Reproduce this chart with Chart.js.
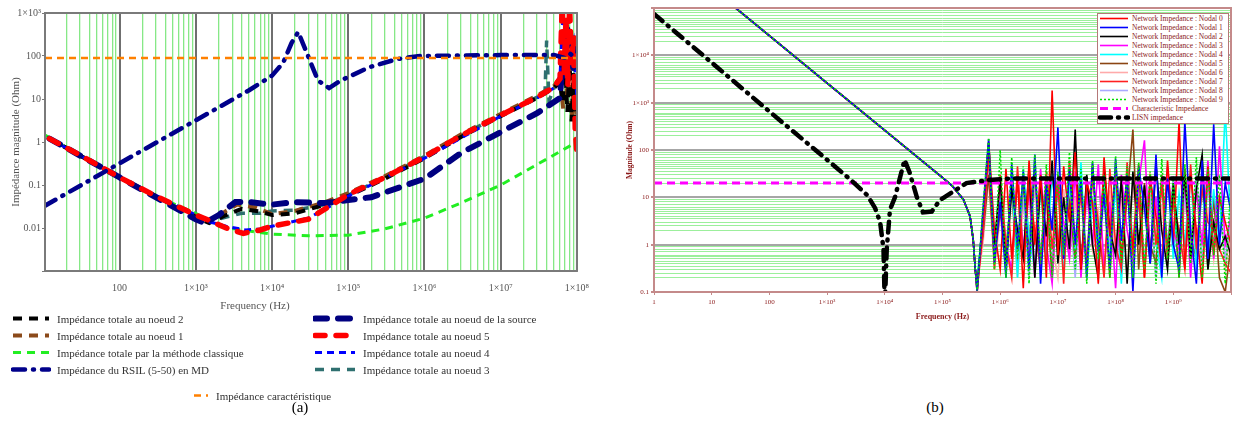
<!DOCTYPE html>
<html lang="fr">
<head>
<meta charset="UTF-8">
<title>Impédance</title>
<script src="https://cdn.jsdelivr.net/npm/chart.js"></script>
<style>
  body { margin: 0; background: #fff; width: 1235px; height: 421px; position: relative; overflow: hidden; font-family: "Liberation Serif", "DejaVu Serif", serif; }
  canvas { position: absolute; top: 0; }
  #chartA { left: 0; }
  #chartB { left: 600px; }
  .col { position: absolute; font-size: 11px; color: #333; }
  .row { height: 17px; display: flex; align-items: center; white-space: nowrap; }
  .row svg { flex: none; }
  #legB { position: absolute; left: 1097px; top: 13px; width: 130px; height: 109px; border: 1px solid #b57878; background: #fff; font-size: 7.5px; color: #8b1a1a; }
  #legB .row { height: 9px; }
  .cap { position: absolute; top: 399px; font-size: 15px; color: #000; transform: translateX(-50%); }
  #xtitleA { position: absolute; top: 299px; left: 255px; transform: translateX(-50%); font-size: 11px; color: #555; }
</style>
</head>
<body>
<canvas id="chartA" width="600" height="312"></canvas>
<canvas id="chartB" width="635" height="322"></canvas>
<div id="xtitleA">Frequency (Hz)</div>
<div class="col" id="legA1" style="left:11px; top:310px;"></div>
<div class="col" id="legA2" style="left:313px; top:310px;"></div>
<div class="col" id="legA3" style="left:192px; top:387px;"></div>
<div id="legB"></div>
<div class="cap" style="left:300px;">(a)</div>
<div class="cap" style="left:935px;">(b)</div>

<script>
// ---------- (a) données ----------
const caracF = [10.5, 1e8];
const caracZ = [90, 90];

const rsilF = [10.5, 100, 1000, 5000, 10000, 14000, 18000, 22000, 27000, 40000, 56000, 80000, 190000, 440000, 870000, 1e7, 5e7, 7e7, 8e7, 9e7, 1e8];
const rsilZ = [0.033, 0.32, 3.2, 16, 35, 70, 200, 360, 150, 27, 18, 27, 55, 85, 100, 105, 105, 90, 115, 100, 100];

const clF = [10.5, 30, 100, 300, 1000, 2000, 4000, 10000, 30000, 100000, 300000, 1e6, 3e6, 1e7, 3e7, 1e8];
const clZ = [1.45, 0.5, 0.15, 0.055, 0.022, 0.011, 0.009, 0.0072, 0.0066, 0.0068, 0.0095, 0.017, 0.038, 0.1, 0.3, 1.0];

const n5F = [12, 30, 100, 300, 1000, 1500, 2500, 4200, 7000, 10000, 30000, 100000, 300000, 1e6, 3e6, 1e7, 3e7, 5e7, 6e7, 6.4e7, 6.8e7, 7.2e7, 7.6e7, 8e7, 8.5e7, 9e7, 9.5e7, 1e8];
const n5Z = [1.2, 0.5, 0.15, 0.055, 0.02, 0.015, 0.01, 0.0075, 0.009, 0.011, 0.016, 0.06, 0.15, 0.45, 1.4, 4.2, 11, 19, 30, 1500, 40, 800, 20, 1500, 60, 300, 2, 0.5];

const n4F = [12, 100, 1000, 1500, 2500, 4500, 7000, 10000, 30000, 100000, 1e6, 1e7, 3e7, 5e7, 6e7, 6.6e7, 7e7, 7.5e7, 8e7, 9e7, 1e8];
const n4Z = [1.2, 0.15, 0.02, 0.014, 0.011, 0.009, 0.0095, 0.011, 0.017, 0.055, 0.42, 4, 10.5, 18, 35, 1200, 50, 500, 80, 200, 10];

const srcF = [12, 100, 1000, 1300, 2000, 3300, 5000, 10000, 20000, 50000, 100000, 200000, 1e6, 3e6, 1e7, 3e7, 6e7, 6.5e7, 7e7, 7.5e7, 8e7, 9e7, 1e8];
const srcZ = [1.2, 0.15, 0.016, 0.013, 0.02, 0.04, 0.04, 0.035, 0.04, 0.038, 0.045, 0.052, 0.14, 0.55, 1.7, 4.7, 10.5, 100, 30, 500, 100, 50, 200];

const n2F = [12, 100, 1000, 1500, 2500, 4000, 7000, 10000, 20000, 50000, 100000, 300000, 1e6, 3e6, 1e7, 3e7, 5e7, 6e7, 6.5e7, 7e7, 7.5e7, 8e7, 8.5e7, 9e7, 9.5e7, 1e8];
const n2Z = [1.2, 0.15, 0.018, 0.013, 0.02, 0.028, 0.024, 0.02, 0.022, 0.035, 0.055, 0.14, 0.42, 1.3, 4, 10.5, 18, 25, 8, 60, 5, 80, 3, 40, 2, 15];

const n1F = [12, 100, 1000, 1500, 2500, 3500, 6000, 10000, 20000, 50000, 100000, 300000, 1e6, 3e6, 1e7, 3e7, 5e7, 6e7, 6.6e7, 7e7, 7.5e7, 8e7, 8.6e7, 9e7, 1e8];
const n1Z = [1.2, 0.15, 0.019, 0.014, 0.025, 0.035, 0.03, 0.021, 0.025, 0.04, 0.065, 0.16, 0.48, 1.5, 4.5, 12, 20, 30, 6, 70, 10, 60, 4, 30, 3];

const n3F = [12, 100, 1000, 1500, 2500, 4000, 7000, 10000, 20000, 50000, 100000, 300000, 1e6, 3e6, 1e7, 3e7, 3.8e7, 4e7, 4.3e7, 5e7, 6e7, 7e7, 8e7, 9e7, 1e8];
const n3Z = [1.2, 0.15, 0.019, 0.014, 0.018, 0.022, 0.022, 0.025, 0.026, 0.035, 0.058, 0.15, 0.46, 1.4, 4.3, 11, 12, 230, 9, 18, 28, 200, 40, 300, 20];

// ---------- (b) ----------
const diagF = [20, 1000, 10000, 100000, 150000, 230000, 300000, 340000, 370000];
const diagZ = [130000, 2600, 260, 26, 17, 9, 4, 1.3, 0.3];
// exposants de fréquence de la zone de résonances
const noiseExp = [5.6, 5.7, 5.8, 5.9, 6.0, 6.1, 6.2, 6.3, 6.4, 6.5, 6.6, 6.7, 6.8, 6.9, 7.0, 7.1, 7.2, 7.3, 7.4, 7.5, 7.6, 7.7, 7.8, 7.9, 8.0, 8.1, 8.2, 8.3, 8.4, 8.5, 8.6, 8.7, 8.8, 8.9, 9.0, 9.1, 9.2, 9.3, 9.4, 9.5, 9.6, 9.7, 9.8, 9.9, 10.0];
const nodal0 = [0.1, 3, 150, 2, 0.3, 40, 0.5, 25, 0.12, 60, 1, 30, 0.2, 1800, 0.6, 45, 3, 90, 0.3, 20, 8, 0.15, 70, 1.5, 35, 0.4, 15, 0.8, 50, 0.2, 25, 4, 0.3, 60, 1, 400, 0.3, 30, 2, 0.15, 45, 0.6, 10, 3, 1];
const nodal1 = [0.1, 5, 170, 0.4, 8, 0.2, 50, 0.8, 35, 0.3, 80, 0.15, 20, 2, 300, 0.5, 40, 1, 25, 0.2, 55, 0.7, 12, 0.3, 65, 1.2, 30, 0.1, 45, 6, 0.4, 80, 0.2, 25, 1, 0.3, 400, 2, 0.15, 60, 0.5, 350, 1, 20, 5];
const nodal2 = [0.12, 4, 140, 1, 25, 0.3, 15, 2, 0.5, 45, 0.2, 20, 1.5, 60, 0.4, 10, 0.8, 270, 0.3, 30, 1, 0.2, 40, 2, 0.6, 25, 0.15, 35, 1, 18, 0.4, 50, 2, 0.3, 20, 1, 30, 0.5, 15, 80, 0.3, 3, 0.8, 1.5, 0.6];
const nodal3 = [0.15, 2, 90, 0.6, 20, 1, 0.3, 30, 0.8, 15, 0.2, 40, 1, 0.15, 25, 3, 0.5, 35, 0.2, 12, 1, 50, 0.3, 8, 0.12, 30, 2, 0.4, 20, 160, 0.5, 10, 0.3, 45, 2, 0.8, 25, 0.2, 15, 1, 60, 0.5, 120, 1, 4];
const nodal4 = [0.2, 3, 100, 0.8, 10, 0.4, 25, 0.2, 40, 1.5, 0.3, 15, 0.6, 30, 2, 0.3, 20, 0.8, 55, 0.2, 10, 1, 30, 0.4, 18, 0.15, 45, 1, 8, 0.3, 25, 1.2, 0.2, 35, 0.5, 12, 1, 40, 0.3, 20, 0.6, 15, 1, 700, 2];
const nodal5 = [0.2, 1.5, 30, 0.5, 5, 0.8, 15, 0.3, 20, 1, 40, 0.4, 12, 0.2, 30, 1, 8, 0.5, 25, 0.3, 50, 1, 15, 0.2, 35, 0.6, 10, 270, 0.3, 20, 1, 0.4, 30, 0.8, 12, 0.2, 40, 1.5, 0.5, 25, 0.3, 10, 0.2, 0.1, 1];
const nodal6 = [0.15, 1, 25, 0.3, 4, 0.5, 12, 0.2, 8, 0.6, 18, 0.3, 6, 1, 0.2, 15, 0.5, 10, 0.3, 22, 0.8, 5, 0.2, 14, 0.6, 9, 0.3, 20, 1, 0.4, 12, 0.25, 7, 0.5, 16, 0.3, 10, 0.8, 25, 0.2, 6, 0.5, 12, 0.3, 2];
const nodal7 = [0.1, 2, 80, 0.3, 30, 1, 0.2, 45, 0.5, 15, 2, 0.3, 35, 0.8, 20, 0.15, 60, 1, 12, 0.4, 25, 3, 0.2, 40, 1, 0.3, 55, 0.6, 10, 0.2, 30, 1, 18, 0.5, 8, 2, 0.3, 50, 0.8, 15, 3, 2, 0.8, 0.4, 0.25];
const nodal8 = [0.12, 2, 60, 0.5, 15, 0.3, 25, 1, 10, 0.2, 30, 0.6, 18, 0.3, 40, 1, 8, 0.2, 20, 0.5, 35, 0.3, 12, 1, 25, 0.2, 15, 0.8, 30, 0.4, 10, 0.2, 20, 1, 28, 0.3, 12, 0.6, 35, 0.4, 18, 1, 8, 0.5, 3];
const nodal9 = [0.1, 6, 180, 0.3, 100, 0.2, 70, 0.5, 45, 0.15, 80, 0.4, 50, 0.2, 35, 0.6, 90, 0.3, 40, 0.15, 60, 0.5, 30, 0.2, 75, 0.4, 45, 0.2, 55, 0.3, 35, 0.15, 65, 0.5, 25, 0.2, 50, 0.4, 70, 0.2, 40, 0.6, 30, 0.15, 20];

const charF = [1, 1e10];
const charZ = [20, 20];
const lisnF = [1, 10, 100, 1000, 2500, 5000, 6800, 8300, 9500, 10000, 10800, 12300, 15000, 22000, 27000, 36000, 46000, 65000, 90000, 260000, 600000, 1.5e6, 1e10];
const lisnZ = [75000, 7000, 650, 62, 24, 11, 5.9, 3, 0.8, 0.05, 0.8, 5.5, 10, 62, 33, 10, 4.8, 5, 8.7, 20, 23, 25, 25];

// ---------- helpers ----------
const serif = '"Liberation Serif", "DejaVu Serif", serif';
const sup = { '0': '⁰', '1': '¹', '2': '²', '3': '³', '4': '⁴', '5': '⁵', '6': '⁶', '7': '⁷', '8': '⁸', '9': '⁹' };
const isDecade = v => Math.abs(Math.log10(v) - Math.round(Math.log10(v))) < 1e-9;
function logLabel(v) {
  const e = Math.round(Math.log10(v));
  if (e >= 3) return '1×10' + String(e).split('').map(c => sup[c]).join('');
  return String(Number(v.toPrecision(1)));
}
function logTicks(lo, hi, subs) {
  const out = [];
  for (let e = lo; e < hi; e++) subs.forEach(k => out.push(k * 10 ** e));
  out.push(10 ** hi);
  return out;
}
const pts = (F, Z) => F.map((f, i) => ({ x: f, y: Z[i] }));
function line(label, data, color, width, dash, cap) {
  return { label, data, borderColor: color, borderWidth: width, borderDash: dash || [],
           borderCapStyle: cap || 'butt', pointRadius: 0, tension: 0, fill: false };
}
const frame = {
  id: 'frame',
  afterDraw(chart, args, o) {
    const { ctx, chartArea: a } = chart;
    ctx.save();
    ctx.strokeStyle = o.color;
    ctx.lineWidth = o.width;
    ctx.strokeRect(a.left, a.top, a.right - a.left, a.bottom - a.top);
    ctx.restore();
  }
};
function sample(ds, w) {
  const d = ds.borderDash.length ? ` stroke-dasharray="${ds.borderDash.join(' ')}"` : '';
  return `<svg width="${w}" height="9"><line x1="2" y1="4.5" x2="${w - 2}" y2="4.5" stroke="${ds.borderColor}" stroke-width="${ds.borderWidth}" stroke-linecap="${ds.borderCapStyle}"${d}/></svg>`;
}

// ---------- chart (a) ----------
const dsCarac = line('Impédance caractéristique', pts(caracF, caracZ), '#ff8000', 2.5, [7, 5]);
const dsRsil = line('Impédance du RSIL (5-50) en MD', pts(rsilF, rsilZ), '#00008b', 4.5, [12, 8, 1, 8], 'round');
const dsN5 = line('Impédance totale au noeud 5', pts(n5F, n5Z), '#ff0000', 5.5, [10, 11], 'round');
const dsSrc = line('Impédance totale au noeud de la source', pts(srcF, srcZ), '#000080', 6, [12, 11], 'round');
const dsN4 = line('Impédance totale au noeud 4', pts(n4F, n4Z), '#0000ff', 3, [7, 5]);
const dsN2 = line('Impédance totale au noeud 2', pts(n2F, n2Z), '#000000', 4, [9, 7]);
const dsN1 = line('Impédance totale au noeud 1', pts(n1F, n1Z), '#8b4a1a', 4, [9, 7]);
const dsN3 = line('Impédance totale au noeud 3', pts(n3F, n3Z), '#2f7070', 3.5, [9, 7]);
const dsCl = line('Impédance totale par la méthode classique', pts(clF, clZ), '#22ee22', 3, [8, 6]);

const aXTicks = logTicks(1, 8, [1, 2, 3, 4, 5, 6, 7, 8, 9]).filter(v => v >= 10.5);
const aYTicks = logTicks(-3, 3, [1]);

new Chart(document.getElementById('chartA'), {
  type: 'line',
  data: { datasets: [dsCarac, dsRsil, dsN5, dsSrc, dsN4, dsN2, dsN1, dsN3, dsCl] },
  plugins: [frame],
  options: {
    responsive: false, animation: false,
    layout: { padding: { top: 13, right: 18, left: 0, bottom: 0 } },
    plugins: { legend: { display: false }, tooltip: { enabled: false }, frame: { color: '#7a7a7a', width: 2 } },
    scales: {
      x: {
        type: 'logarithmic', min: 10.5, max: 1e8,
        afterBuildTicks: s => { s.ticks = aXTicks.map(v => ({ value: v })); },
        afterFit: s => { s.height = 41; },
        grid: {
          drawTicks: false,
          color: c => c.tick && isDecade(c.tick.value) ? '#6f6f6f' : '#86e886',
          lineWidth: c => c.tick && isDecade(c.tick.value) ? 2 : 1.3
        },
        border: { display: false },
        ticks: { autoSkip: false, maxRotation: 0, padding: 11, color: '#555', font: { family: serif, size: 10 },
                 callback: v => isDecade(v) && v >= 100 ? logLabel(v) : '' }
      },
      y: {
        type: 'logarithmic', min: 0.001, max: 1000,
        afterBuildTicks: s => { s.ticks = aYTicks.map(v => ({ value: v })); },
        afterFit: s => { s.width = 45; },
        grid: { drawOnChartArea: false, tickLength: 3, color: '#777' },
        border: { display: false },
        title: { display: true, text: 'Impédance magnitude (Ohm)', color: '#555', font: { family: serif, size: 11 }, padding: { top: 10, bottom: 0 } },
        ticks: { autoSkip: false, padding: 1, color: '#555', font: { family: serif, size: 10 },
                 callback: v => v > 0.001 ? logLabel(v) : '' }
      }
    }
  }
});

function fillCol(id, list, w) {
  document.getElementById(id).innerHTML = list.map(ds =>
    `<div class="row">${sample(ds, w)}<span style="margin-left:6px">${ds.label}</span></div>`).join('');
}
fillCol('legA1', [dsN2, dsN1, dsCl, dsRsil], 40);
fillCol('legA2', [dsSrc, dsN5, dsN4, dsN3], 44);
fillCol('legA3', [dsCarac], 18);

// ---------- chart (b) ----------
function nodal(vals) {
  return pts(diagF, diagZ).concat(noiseExp.map((e, i) => ({ x: 10 ** e, y: vals[i] })));
}
const dsB = [
  line('Network Impedance : Nodal 0', nodal(nodal0), '#ff0000', 1.6),
  line('Network Impedance : Nodal 1', nodal(nodal1), '#0000ff', 1.6),
  line('Network Impedance : Nodal 2', nodal(nodal2), '#000000', 1.6),
  line('Network Impedance : Nodal 3', nodal(nodal3), '#ff00ff', 1.6),
  line('Network Impedance : Nodal 4', nodal(nodal4), '#00ffff', 1.6),
  line('Network Impedance : Nodal 5', nodal(nodal5), '#8b4513', 1.6),
  line('Network Impedance : Nodal 6', nodal(nodal6), '#ffaaaa', 1.6),
  line('Network Impedance : Nodal 7', nodal(nodal7), '#ff2020', 1.6),
  line('Network Impedance : Nodal 8', nodal(nodal8), '#aaaaff', 1.6),
  line('Network Impedance : Nodal 9', nodal(nodal9), '#00dd00', 1.6, [2, 2]),
  line('Characteristic Impedance', pts(charF, charZ), '#ff00ff', 3, [8, 5]),
  line('LISN impedance', pts(lisnF, lisnZ), '#000000', 4.5, [11, 7, 1, 7], 'round')
];
// premier = dessiné au-dessus
const drawOrder = [11, 10, 9, 1, 0, 2, 7, 3, 4, 5, 8, 6];

const bXTicks = logTicks(0, 10, [1]);
const bYTicks = logTicks(-1, 5, [1, 2, 2.5, 3, 3.5, 4, 4.5, 5, 5.5, 6, 7, 8, 9]);
const redText = '#8b1a1a';

new Chart(document.getElementById('chartB'), {
  type: 'line',
  data: { datasets: drawOrder.map(i => dsB[i]) },
  plugins: [frame],
  options: {
    responsive: false, animation: false,
    layout: { padding: { top: 8, right: 4, left: 0, bottom: 0 } },
    plugins: { legend: { display: false }, tooltip: { enabled: false }, frame: { color: '#c48a8a', width: 2 } },
    scales: {
      x: {
        type: 'logarithmic', min: 1, max: 1e10,
        afterBuildTicks: s => { s.ticks = bXTicks.map(v => ({ value: v })); },
        afterFit: s => { s.height = 30; },
        grid: { drawOnChartArea: false, tickLength: 3, color: '#c48a8a' },
        border: { display: false },
        title: { display: true, text: 'Frequency (Hz)', color: redText, font: { family: serif, size: 8, weight: 'bold' }, padding: { top: 2, bottom: 0 } },
        ticks: { autoSkip: false, maxRotation: 0, padding: 3, color: redText, font: { family: serif, size: 7 },
                 callback: v => v < 1e10 ? logLabel(v) : '' }
      },
      y: {
        type: 'logarithmic', min: 0.1, max: 1e5,
        afterBuildTicks: s => { s.ticks = bYTicks.map(v => ({ value: v })); },
        afterFit: s => { s.width = 54; },
        grid: {
          tickLength: 3,
          color: c => c.tick && isDecade(c.tick.value) ? '#a6a6a6' : '#9cef9c',
          lineWidth: c => c.tick && isDecade(c.tick.value) ? 2 : 1,
          tickColor: c => c.tick && isDecade(c.tick.value) ? '#c48a8a' : 'rgba(0,0,0,0)'
        },
        border: { display: false },
        title: { display: true, text: 'Magnitude (Ohm)', color: redText, font: { family: serif, size: 7.5, weight: 'bold' }, padding: { top: 26, bottom: 0 } },
        ticks: { autoSkip: false, padding: 2, color: redText, font: { family: serif, size: 7 },
                 callback: v => isDecade(v) && v < 1e5 ? logLabel(v) : '' }
      }
    }
  }
});

document.getElementById('legB').innerHTML = dsB.map(ds =>
  `<div class="row">${sample(ds, 32)}<span style="margin-left:2px">${ds.label}</span></div>`).join('');
</script>
</body>
</html>
